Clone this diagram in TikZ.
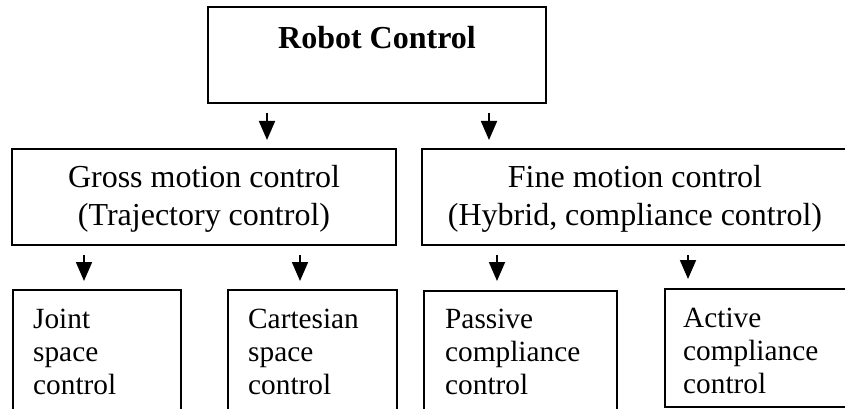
\documentclass[tikz,border=0pt]{standalone}
\usepackage{fontspec}
\setmainfont{Liberation Serif}
\usetikzlibrary{arrows.meta}
\begin{document}
\begin{tikzpicture}[x=1pt,y=-1pt,
  box/.style={draw,line width=1.8pt,inner sep=0pt,outer sep=0pt},
  arr/.style={line width=1.8pt,-{Triangle[length=19pt,width=16pt]}},
  midtext/.style={align=center,inner sep=0pt,anchor=base,font=\fontsize{32}{38}\selectfont},
  leaftext/.style={align=left,inner sep=0pt,anchor=base west,font=\fontsize{29.3}{33}\selectfont}]
\useasboundingbox (0,0) rectangle (845,409);
\clip (0,0) rectangle (845,409);

% top box
\node[box,minimum width=338pt,minimum height=96pt,anchor=north west] (root) at (208,7) {};
\node[inner sep=0pt,anchor=base,font=\fontsize{32}{38}\selectfont\bfseries] (roottxt) at (377,49) {Robot Control};

% second level (multi-line text is placed by the baseline of its last line)
\node[box,minimum width=384pt,minimum height=96pt,anchor=north west] (gross) at (12,149) {};
\node[midtext] (grosstxt) at (204,225) {Gross motion control\\(Trajectory control)};
\node[box,minimum width=428pt,minimum height=96pt,anchor=north west] (fine) at (422,149) {};
\node[midtext] (finetxt) at (635,225) {Fine motion control\\(Hybrid, compliance control)};

% third level
\node[box,minimum width=168pt,minimum height=140pt,anchor=north west] (joint) at (13,290) {};
\node[leaftext] (jointtxt) at (33,394) {Joint\\space\\control};
\node[box,minimum width=169pt,minimum height=140pt,anchor=north west] (cart) at (228,290) {};
\node[leaftext] (carttxt) at (248,394) {Cartesian\\space\\control};
\node[box,minimum width=193pt,minimum height=140pt,anchor=north west] (pass) at (424,291) {};
\node[leaftext] (passtxt) at (445,394) {Passive\\compliance\\control};
\node[box,minimum width=190pt,minimum height=118pt,anchor=north west] (act) at (665,289) {};
\node[leaftext] (acttxt) at (683,393) {Active\\compliance\\control};

% arrow end points
\coordinate (a1s) at (267,113); \coordinate (a1e) at (267,140);
\coordinate (a2s) at (489,113); \coordinate (a2e) at (489,140);
\coordinate (b1s) at (84,255);  \coordinate (b1e) at (84,281);
\coordinate (b2s) at (300,255); \coordinate (b2e) at (300,281);
\coordinate (b3s) at (497,255); \coordinate (b3e) at (497,281);
\coordinate (b4s) at (688,255); \coordinate (b4e) at (688,279);

\draw[arr] (a1s) -- (a1e);
\draw[arr] (a2s) -- (a2e);
\draw[arr] (b1s) -- (b1e);
\draw[arr] (b2s) -- (b2e);
\draw[arr] (b3s) -- (b3e);
\draw[arr] (b4s) -- (b4e);
\end{tikzpicture}
\end{document}
